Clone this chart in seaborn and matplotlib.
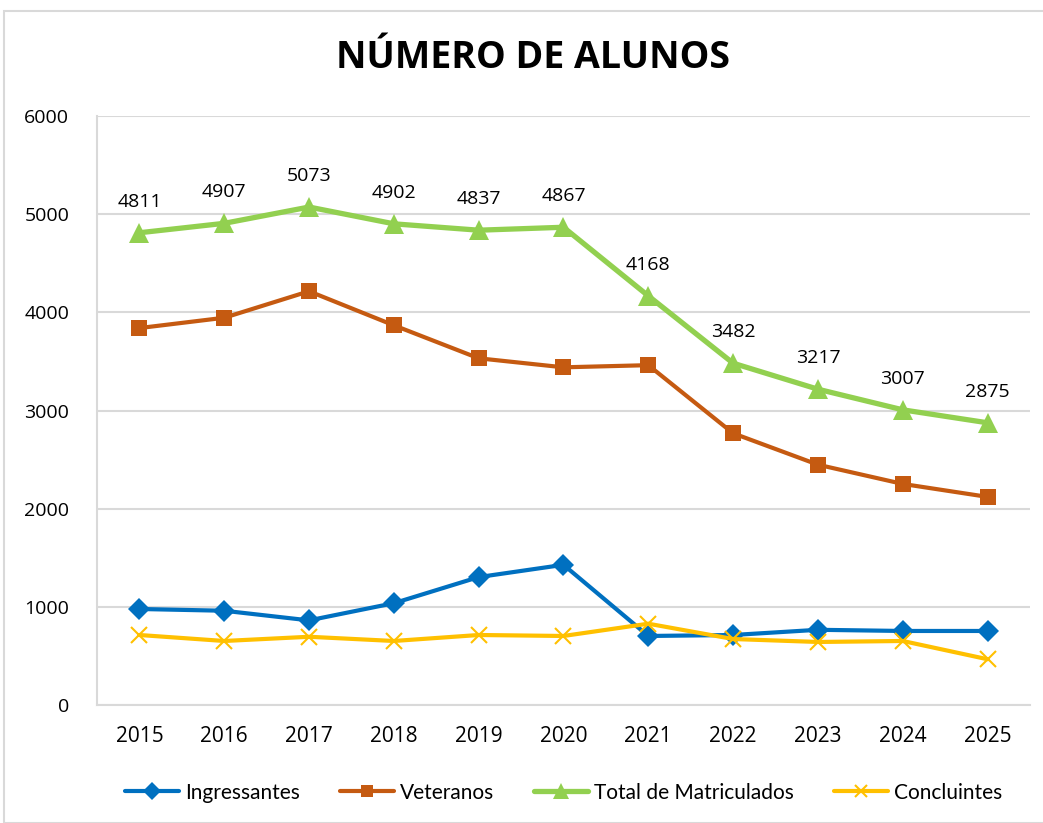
import numpy as np
import pandas as pd
import matplotlib.pyplot as plt
import seaborn as sns
from matplotlib.patches import Rectangle

# data
years = [2015, 2016, 2017, 2018, 2019, 2020, 2021, 2022, 2023, 2024, 2025]
ingressantes = [978, 960, 862, 1037, 1303, 1428, 703, 713, 766, 754, 754]
veteranos = [3840, 3945, 4215, 3868, 3532, 3440, 3462, 2768, 2448, 2252, 2120]
total = [4811, 4907, 5073, 4902, 4837, 4867, 4168, 3482, 3217, 3007, 2875]
concluintes = [713, 652, 695, 652, 713, 703, 828, 672, 642, 652, 466]

series_names = ["Ingressantes", "Veteranos", "Total de Matriculados", "Concluintes"]
colors = ["#0070C0", "#C55A11", "#92D050", "#FFC000"]
markers = ["D", "s", "^", "x"]

df = pd.DataFrame({
    "Ano": years * 4,
    "Valor": ingressantes + veteranos + total + concluintes,
    "Serie": [n for n in series_names for _ in years],
})

sns.set_style("white")
plt.rcParams["font.family"] = ["Open Sans", "DejaVu Sans"]
plt.rcParams["text.color"] = "black"
plt.rcParams["xtick.color"] = "black"
plt.rcParams["ytick.color"] = "black"

fig = plt.figure(figsize=(10.43, 8.23), dpi=100)
ax = fig.add_axes([0.093, 0.1434, 0.8945, 0.7156])

# outer chart border
fig.patches.append(Rectangle((4 / 1043, 0.0), 1.2, 1 - 11 / 823,
                             transform=fig.transFigure, fill=False,
                             edgecolor="#D9D9D9", linewidth=1.5))

sizes = {"Ingressantes": 11, "Veteranos": 11, "Total de Matriculados": 14, "Concluintes": 11}
widths = {"Ingressantes": 3.0, "Veteranos": 3.0, "Total de Matriculados": 3.8, "Concluintes": 3.0}

for name, col, mk in zip(series_names, colors, markers):
    sub = df[df["Serie"] == name]
    sns.lineplot(data=sub, x="Ano", y="Valor", ax=ax, color=col, marker=mk,
                 markersize=sizes[name], linewidth=widths[name],
                 markeredgecolor=col, markeredgewidth=1.5 if mk == "x" else 0,
                 label=name, zorder=3)

# value labels on total
for x, v in zip(years, total):
    ax.annotate(str(v), (x, v), xytext=(0, 16), textcoords="offset points",
                ha="center", va="bottom", fontsize=14, color="black")

ax.set_xlim(2014.5, 2025.5)
ax.set_ylim(0, 6000)
ax.set_yticks(range(0, 6001, 1000))
ax.set_xticks(years)
ax.set_xticklabels([str(y) for y in years])
ax.tick_params(axis="y", labelsize=14, length=0, pad=20)
ax.tick_params(axis="x", labelsize=15, length=0, pad=15)
ax.set_xlabel("")
ax.set_ylabel("")
ax.grid(axis="y", color="#D9D9D9", linewidth=1.5)
for s in ["top", "right"]:
    ax.spines[s].set_visible(False)
ax.spines["left"].set_color("#D9D9D9")
ax.spines["bottom"].set_color("#D9D9D9")
ax.spines["left"].set_linewidth(1.5)
ax.spines["bottom"].set_linewidth(1.5)

fig.text(0.511, 0.929, "NÚMERO DE ALUNOS", ha="center", va="center",
         fontsize=27, fontweight="bold", family="Open Sans", color="black")

leg = ax.legend(loc="upper center", bbox_to_anchor=(0.5, -0.1), ncol=4, frameon=False,
                handlelength=2.6, handletextpad=0.3, columnspacing=1.9,
                prop={"family": "Lato", "size": 15}, markerscale=0.85)

fig.savefig("out.png", dpi=100)
